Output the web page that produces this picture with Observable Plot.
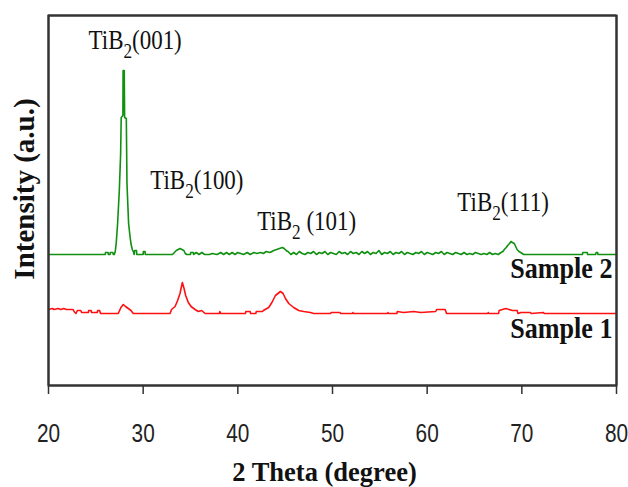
<!DOCTYPE html>
<html><head><meta charset="utf-8">
<script src="https://cdn.jsdelivr.net/npm/d3@7"></script>
<script src="https://cdn.jsdelivr.net/npm/@observablehq/plot@0.6"></script>
<style>html,body{margin:0;padding:0;background:#fff;overflow:hidden}</style>
</head><body><div id="chart"></div>
<script>
// XRD patterns: [2theta (deg), intensity (a.u.)]
const sample2 = [[20,131],[26.0,131],[26.02,133],[26.3,133],[26.32,131],[26.5,131],[26.52,133],[26.8,133],[26.85,131],[26.95,131],[27.05,134],[27.15,142],[27.3,162],[27.48,195],[27.62,232],[27.68,268],[27.86,270],[27.88,315],[28.0,315],[28.04,268],[28.22,267],[28.29,202],[28.46,162],[28.6,150],[28.71,142],[28.85,136],[29.0,133],[29.05,131],[29.1,135],[29.3,135],[29.32,131],[30.0,131],[30.02,134],[30.2,134],[30.22,131],[33.1,131],[33.3,133],[33.5,135],[33.7,136],[33.9,137],[34.1,136],[34.3,135],[34.45,132],[34.6,131],[35.0,131],[35.02,133],[35.3,133],[35.32,131],[35.6,133],[35.9,131],[36.2,133],[36.5,131],[37.0,131],[37.3,132],[37.8,131],[38.2,133],[38.5,131],[38.8,133],[39.1,131],[39.4,133],[39.7,131],[40.0,133],[40.3,132],[40.6,131],[41.0,133],[41.3,131],[41.7,133],[42.0,132],[42.4,133],[42.7,132],[43.0,134],[43.4,133],[43.8,135],[44.1,136],[44.4,137],[44.7,138],[44.9,137],[45.1,135],[45.3,134],[45.6,131],[45.9,133],[46.2,131],[46.5,134],[46.8,132],[47.1,131],[47.4,133],[47.7,132],[48.0,134],[48.3,131],[48.6,133],[48.9,132],[49.2,134],[49.5,131],[49.8,133],[50.1,132],[50.4,131],[50.7,134],[51.0,132],[51.3,133],[51.6,131],[51.9,134],[52.2,132],[52.5,133],[52.8,131],[53.1,134],[53.4,132],[53.7,134],[54.0,131],[54.3,133],[54.6,132],[54.9,135],[55.2,131],[55.5,133],[55.8,132],[56.1,134],[56.4,131],[56.7,133],[57.0,132],[57.3,134],[57.6,131],[57.9,133],[58.2,132],[58.5,131],[58.8,133],[59.1,132],[59.4,134],[59.7,131],[60.0,133],[60.3,132],[60.6,131],[60.9,133],[61.2,132],[61.5,134],[61.8,131],[62.1,133],[62.4,132],[62.7,131],[63.0,133],[63.3,132],[63.6,131],[63.9,133],[64.2,131],[64.5,132],[64.8,131],[65.1,133],[65.4,132],[65.7,131],[66.0,132],[66.3,131],[66.6,133],[66.9,131],[67.2,132],[67.5,131],[67.8,133],[68.0,134],[68.15,136],[68.35,138],[68.5,140],[68.7,142],[68.85,144],[69.0,143],[69.2,142],[69.35,139],[69.5,136],[69.7,134],[69.88,133],[70.2,131],[76.4,131],[76.45,133],[76.9,133],[76.95,131],[77.8,131],[77.85,133],[78.0,133],[78.05,131],[80,131]];
const sample1 = [[20,76],[20.4,77],[20.6,76],[21.0,77],[21.3,76],[21.6,77],[21.9,76],[22.3,76],[22.6,76],[22.7,74],[22.9,72],[23.05,75],[23.4,75],[23.5,73],[24.2,73],[24.25,75],[24.5,75],[24.55,73],[25.15,73],[25.2,75],[25.4,75],[25.5,72],[27.37,72],[27.65,78],[27.9,81],[28.14,79],[28.43,77],[28.71,75],[28.96,72],[32.84,72],[33.0,76],[33.37,79],[33.64,85],[33.89,92],[34.14,103],[34.32,97],[34.49,90],[34.77,83],[35.06,79],[35.48,76],[35.83,74],[36.18,75],[36.54,72],[38.05,72],[38.1,74],[38.2,72],[40.8,72],[40.85,74],[41.3,74],[41.35,72],[41.9,72],[41.95,74],[42.6,74],[42.7,75],[43.26,78],[43.6,83],[43.97,90],[44.5,94],[44.78,92],[45.03,87],[45.38,82],[45.9,78],[46.43,75],[46.96,74],[47.67,73],[48.0,72],[49.8,72],[49.85,73],[50.8,73],[50.85,72],[52.1,72],[52.15,73],[52.2,72],[55.8,72],[55.85,73],[55.9,72],[56.8,72],[56.85,74],[57.5,73],[58.6,74],[59.3,73],[60.9,74],[61.0,76],[61.9,76],[62.05,72],[66.4,72],[66.45,73],[66.5,72],[67.55,72],[67.6,75],[68.3,77],[69.0,75],[69.5,75],[69.6,72],[69.9,73],[70.9,73],[71.0,72],[72.3,73],[72.35,72],[80,72]];

const xDomain = [20, 80];
const yDomain = [0, 370];
const xTicks = [20, 30, 40, 50, 60, 70, 80];
const peakHkl = ["(001)", "(100)", " (101)", "(111)"];
const peakLabelX = [24.23, 30.75, 42.04, 63.19];
const peakLabelY = [337, 197, 156, 175];
const sampleNames = ["Sample 2", "Sample 1"];
const sampleLabelY = [108, 48];
const xTitle = "2 Theta (degree)";
const yTitle = "Intensity (a.u.)";

const peakLabels = peakHkl.map((h, i) => ({x: peakLabelX[i], y: peakLabelY[i], text: "TiB2" + h}));
const sampleLabels = sampleNames.map((s, i) => ({x: xDomain[1], y: sampleLabelY[i], text: s}));

const serif = "'Liberation Serif', 'Times New Roman', serif";
const sans = "'Liberation Sans', Arial, sans-serif";

const svg = Plot.plot({
  width: 628, height: 487,
  marginLeft: 48, marginRight: 12, marginTop: 15, marginBottom: 102,
  x: {domain: xDomain, axis: null},
  y: {domain: yDomain, axis: null},
  style: {background: "#fff", fontFamily: serif, overflow: "visible"},
  marks: [
    Plot.line(sample2, {x: d => d[0], y: d => d[1], stroke: "#109010", strokeWidth: 1.6}),
    Plot.line(sample1, {x: d => d[0], y: d => d[1], stroke: "#ff1010", strokeWidth: 1.6}),
    Plot.frame({stroke: "#333", strokeWidth: 2}),
    Plot.ruleX(xDomain, {stroke: "#333", strokeWidth: 2}),
    Plot.ruleY(yDomain, {stroke: "#333", strokeWidth: 2}),
    Plot.axisX(xTicks, {tickSize: 9, tickPadding: 29, stroke: "#333", strokeWidth: 1.5,
      fontSize: 26, fontFamily: sans, fill: "#222", label: null}),
    Plot.text(peakLabels, {x: "x", y: "y", text: "text", textAnchor: "start", lineAnchor: "bottom",
      fontSize: 28, fontFamily: serif, fill: "#111", ariaLabel: () => "peak labels"}),
    Plot.text(sampleLabels, {x: "x", y: "y", text: "text", textAnchor: "end", lineAnchor: "bottom", dx: -4,
      fontSize: 29, fontWeight: "bold", fontFamily: serif, fill: "#111", ariaLabel: () => "sample labels"}),
    Plot.text([xTitle], {text: d => d, frameAnchor: "bottom", textAnchor: "middle", lineAnchor: "bottom", dx: -8, dy: 95,
      fontSize: 26.5, fontWeight: "bold", fontFamily: serif, fill: "#111"}),
    Plot.text([yTitle], {text: d => d, frameAnchor: "left", textAnchor: "middle", rotate: -90, lineAnchor: "bottom", dx: -15, dy: -11.5,
      fontSize: 29, fontWeight: "bold", fontFamily: serif, fill: "#111"})
  ]
});

const sel = name => [...svg.querySelectorAll(`text[aria-label="${name}"], g[aria-label="${name}"] text`)];

// subscript "2" in the TiB2 labels
const NS = "http://www.w3.org/2000/svg";
sel("peak labels").forEach((t, i) => {
  t.textContent = "";
  const a = document.createElementNS(NS, "tspan"); a.textContent = "TiB";
  const b = document.createElementNS(NS, "tspan"); b.textContent = "2";
  b.setAttribute("dy", "9"); b.setAttribute("font-size", "21");
  const c = document.createElementNS(NS, "tspan"); c.textContent = peakHkl[i];
  c.setAttribute("dy", "-9");
  t.append(a, b, c);
});

// horizontally condensed lettering, as in the reference
function squeeze(list, s) {
  list.forEach(t => {
    let tr = t.getAttribute("transform");
    if (!tr) {
      const x = parseFloat(t.getAttribute("x")) || 0;
      t.removeAttribute("x");
      tr = `translate(${x},0)`;
    }
    t.setAttribute("transform", tr + ` scale(${s},1)`);
  });
}
squeeze(sel("x-axis tick label"), 0.8);
squeeze(sel("peak labels"), 0.82);
squeeze(sel("sample labels"), 0.9);

document.getElementById("chart").append(svg);
</script>
</body></html>
